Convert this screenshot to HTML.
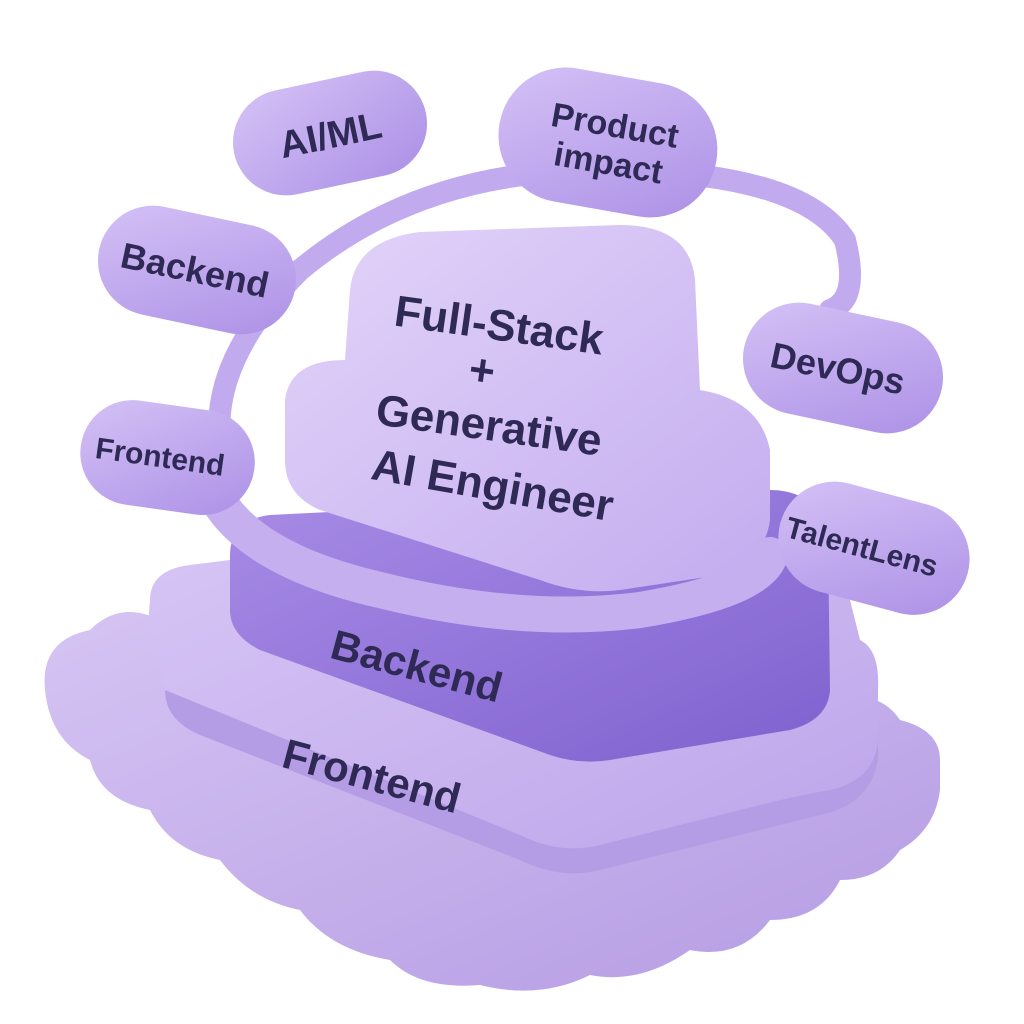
<!DOCTYPE html>
<html><head><meta charset="utf-8"><style>
html,body{margin:0;padding:0;background:#fff;width:1024px;height:1024px;overflow:hidden}
svg{display:block}
text{font-family:"Liberation Sans",sans-serif;font-weight:bold;fill:#2f2a55}
</style></head><body>
<svg width="1024" height="1024" viewBox="0 0 1024 1024" xmlns="http://www.w3.org/2000/svg">
<defs>
<linearGradient id="base" x1="0" y1="0" x2="1" y2="1"><stop offset="0" stop-color="#d6c4f3"/><stop offset="1" stop-color="#b49be3"/></linearGradient>
<linearGradient id="mid" x1="0" y1="0" x2="1" y2="1"><stop offset="0" stop-color="#d8c6f5"/><stop offset="1" stop-color="#bda5ea"/></linearGradient>
<linearGradient id="back" x1="0" y1="0" x2="1" y2="1"><stop offset="0" stop-color="#a88ce6"/><stop offset="1" stop-color="#7f61cf"/></linearGradient>
<linearGradient id="top" x1="0" y1="0" x2="1" y2="1"><stop offset="0" stop-color="#e2d4f9"/><stop offset="1" stop-color="#c4acef"/></linearGradient>
<linearGradient id="pill" x1="0" y1="0" x2="1" y2="1"><stop offset="0" stop-color="#d5c2f6"/><stop offset="1" stop-color="#ac90e6"/></linearGradient>
</defs>
<!-- bottom wavy base -->
<path d="M45 690 Q40 640 90 630 Q120 600 160 620 Q200 600 240 640 L520 780 Q600 800 640 760 Q680 720 740 730 Q790 690 840 700 Q880 690 900 720 Q940 730 940 760 L940 790 Q935 830 900 850 Q880 880 840 880 Q820 920 770 920 Q740 960 690 950 Q640 985 590 975 Q540 1000 480 985 Q420 990 390 960 Q330 950 300 910 Q250 900 220 860 Q170 850 150 810 Q100 800 90 760 Q50 740 45 690Z" fill="url(#base)"/>
<!-- middle frontend slab -->
<path d="M150 600 Q150 570 190 565 L230 560 L780 520 Q830 520 840 560 L860 640 Q880 650 878 690 L878 740 Q870 790 820 800 Q780 800 760 820 L600 860 Q560 870 520 850 L200 730 Q165 715 165 690 L160 660 Q145 650 150 600Z" fill="url(#mid)"/>
<path d="M165 690 L520 835 Q560 855 600 845 L760 805 Q800 795 830 790 Q875 780 878 740 L878 760 Q870 805 820 815 L600 870 Q560 880 520 860 L200 735 Q165 720 165 690Z" fill="#b59de5"/>
<!-- backend block -->
<path d="M230 560 Q228 520 270 515 L770 490 Q820 490 828 540 L830 690 Q828 720 790 730 L610 760 Q580 765 550 755 L260 650 Q230 635 230 610Z" fill="url(#back)"/>
<!-- top block -->
<path d="M350 290 Q355 240 420 232 L620 225 Q690 225 695 280 L700 390 Q760 400 770 450 L770 520 Q765 560 720 575 L620 590 Q580 595 540 580 L320 510 Q285 495 285 460 L285 400 Q290 360 345 360Z" fill="url(#top)"/>
<!-- ring -->
<path d="M230 480 Q190 380 300 270 Q420 170 600 170 Q800 170 845 240 Q860 300 830 310" fill="none" stroke="#c2aaef" stroke-width="22" stroke-linecap="round"/>
<path d="M215 495 Q250 560 380 590 Q520 625 640 610 Q760 590 770 555" fill="none" stroke="#c6afef" stroke-width="36" stroke-linecap="round"/>
<!-- text on blocks -->
<text x="497" y="340" font-size="44" text-anchor="middle" transform="rotate(8 497 340)">Full-Stack</text>
<text x="480" y="385" font-size="44" text-anchor="middle" transform="rotate(8 480 385)">+</text>
<text x="487" y="440" font-size="44" text-anchor="middle" transform="rotate(8 487 440)">Generative</text>
<text x="490" y="500" font-size="44" text-anchor="middle" transform="rotate(10 490 500)">AI Engineer</text>
<text x="413" y="680" font-size="42" text-anchor="middle" transform="rotate(15 413 680)">Backend</text>
<text x="368" y="790" font-size="42" text-anchor="middle" transform="rotate(15 368 790)">Frontend</text>
<!-- pills -->
<g transform="rotate(-12 330 133)"><rect x="232" y="80" width="196" height="106" rx="53" fill="url(#pill)"/><text x="330" y="148" font-size="38" text-anchor="middle">AI/ML</text></g>
<g transform="rotate(10 608 142)"><rect x="498" y="75" width="220" height="135" rx="67" fill="url(#pill)"/><text x="612" y="136" font-size="34" text-anchor="middle">Product</text><text x="612" y="174" font-size="34" text-anchor="middle">impact</text></g>
<g transform="rotate(12 197 270)"><rect x="97" y="215" width="200" height="110" rx="55" fill="url(#pill)"/><text x="195" y="283" font-size="36" text-anchor="middle">Backend</text></g>
<g transform="rotate(12 843 368)"><rect x="742" y="312" width="202" height="112" rx="56" fill="url(#pill)"/><text x="838" y="382" font-size="36" text-anchor="middle">DevOps</text></g>
<g transform="rotate(8 167 458)"><rect x="80" y="405" width="175" height="105" rx="52" fill="url(#pill)"/><text x="160" y="468" font-size="30" text-anchor="middle">Frontend</text></g>
<g transform="rotate(15 873 548)"><rect x="777" y="492" width="194" height="112" rx="56" fill="url(#pill)"/><text x="862" y="560" font-size="30" text-anchor="middle">TalentLens</text></g>
</svg>
</body></html>
